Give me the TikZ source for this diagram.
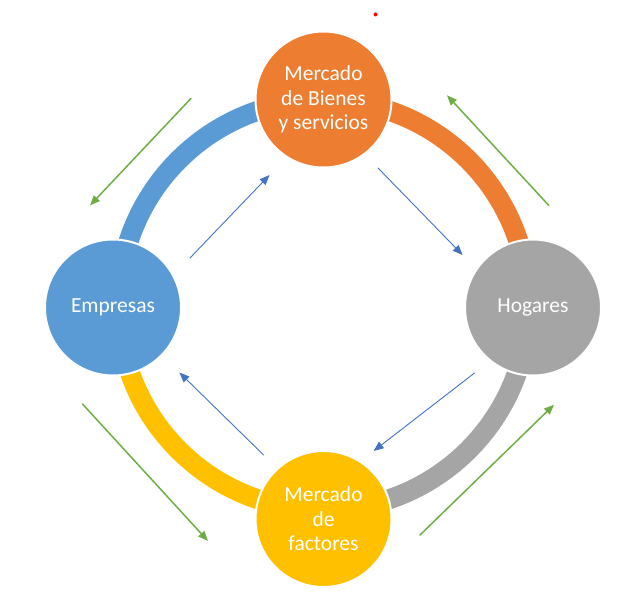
\documentclass[tikz,border=0pt]{standalone}
\usepackage{fontspec}
\setmainfont{Carlito}
\usepackage{tkz-euclide}
\usepackage{tikz}
\usetikzlibrary{arrows.meta}
\definecolor{bienesorange}{HTML}{ED7D31}
\definecolor{empresasblue}{HTML}{5B9BD5}
\definecolor{hogaresgray}{HTML}{A5A5A5}
\definecolor{factoresyellow}{HTML}{FFC000}
\definecolor{moneygreen}{HTML}{70AD47}
\definecolor{realblue}{HTML}{4472C4}
\tikzset{
  bubble/.style={circle, minimum size=136pt, inner sep=0pt, draw=white, line width=2pt,
    text=white, align=center, font=\fontsize{21.5}{24.5}\selectfont},
  ring/.style={line width=20pt},
  realflow/.style={draw=realblue, line width=0.9pt, -{Triangle[length=10pt,width=8pt]}},
  moneyflow/.style={draw=moneygreen, line width=1.5pt, -{Triangle[length=10pt,width=8pt]}}
}

\begin{document}
\begin{tikzpicture}[x=1pt,y=1pt]
    \useasboundingbox (0,0) rectangle (636,606);
    \tkzDefPoints{323.5/301/O,323.5/506/A,118.5/301/B,323.5/96/C,528.5/301/D}
    \draw[ring,empresasblue] (A) arc[start angle=90,end angle=180,radius=205];
    \draw[ring,bienesorange] (D) arc[start angle=0,end angle=90,radius=205];
    \draw[ring,hogaresgray] (C) arc[start angle=270,end angle=360,radius=205];
    \draw[ring,factoresyellow] (B) arc[start angle=180,end angle=270,radius=205];
    \tkzDefPoints{323.5/506.5/M,113/298.5/E,533/298.5/H,323.5/87/F}
    \node[bubble,fill=bienesorange] (bienes) at (M) {Mercado\\de Bienes\\y servicios};
    \node[bubble,fill=empresasblue] (empresas) at (E) {Empresas};
    \node[bubble,fill=hogaresgray] (hogares) at (H) {Hogares};
    \node[bubble,fill=factoresyellow] (factores) at (F) {Mercado\\de\\factores};
    \tkzDefPoints{190/348/r1,269.5/431/r2,378/438/r3,462.6/351/r4,
      474.5/233/r5,373.6/155/r6,263.6/151/r7,179.4/233.5/r8}
    \tkzDrawSegments[realflow](r1,r2 r3,r4 r5,r6 r7,r8)
    \tkzDefPoints{191/507.6/m1,90/400.6/m2,548.8/400.6/m3,447/510.7/m4,
      82.5/202/m5,208/65/m6,420/71/m7,554/201.3/m8}
    \tkzDrawSegments[moneyflow](m1,m2 m3,m4 m5,m6 m7,m8)
    \tkzDefPoint(375.5,591.5){P}
    \fill[red] (P) circle (2pt);
\end{tikzpicture}
\end{document}
